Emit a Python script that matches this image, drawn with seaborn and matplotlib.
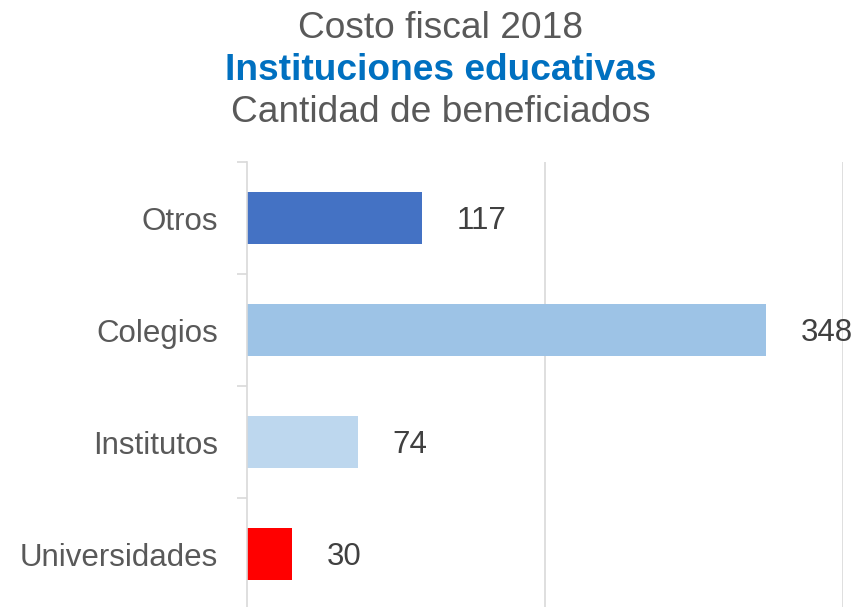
import matplotlib
matplotlib.use("Agg")
import matplotlib.pyplot as plt
import seaborn as sns
from matplotlib.ticker import FixedLocator

categorias = ["Otros", "Colegios", "Institutos", "Universidades"]
beneficiados = [117, 348, 74, 30]
colores = ["#4472C4", "#9DC3E6", "#BDD7EE", "#FF0000"]
x_max = 400
grid_x = [200, 400]

sns.set_theme(style="white")
plt.rcParams["font.family"] = ["Liberation Sans", "DejaVu Sans"]

fig = plt.figure(figsize=(8.56, 6.07), dpi=100)
ax = fig.add_axes([0.2891, -0.005, 0.985 - 0.2891, 0.738])

sns.barplot(x=beneficiados, y=categorias, hue=categorias, palette=colores,
            orient="h", width=0.46, linewidth=0, saturation=1,
            legend=False, ax=ax)

ax.set_xlim(0, x_max)
ax.set_ylim(3.5, -0.5)
ax.set_xticks(grid_x)
ax.set_xticklabels([])
ax.tick_params(axis="x", length=0)
ax.grid(axis="x", color="#D9D9D9", linewidth=1.2)
ax.set_axisbelow(True)

for side in ["top", "right", "bottom"]:
    ax.spines[side].set_visible(False)
ax.spines["left"].set_color("#D9D9D9")
ax.spines["left"].set_linewidth(1.2)

ax.yaxis.set_minor_locator(FixedLocator([-0.5, 0.5, 1.5, 2.5, 3.5]))
ax.tick_params(axis="y", which="major", length=0, pad=21,
               labelsize=22.5, labelcolor="#595959")
ax.tick_params(axis="y", which="minor", length=7, width=1.2,
               color="#D9D9D9", left=True)
ax.set_xlabel("")
ax.set_ylabel("")

for i, v in enumerate(beneficiados):
    ax.annotate(f"{v}", xy=(v, i), xytext=(25, -2), textcoords="offset points",
                ha="left", va="center", fontsize=22.5, color="#404040",
                annotation_clip=False)

fig.text(441 / 856, 1 - 38 / 607, "Costo fiscal 2018", ha="center",
         va="baseline", fontsize=26.7, color="#595959")
fig.text(441 / 856, 1 - 80 / 607, "Instituciones educativas", ha="center",
         va="baseline", fontsize=26.7, color="#0070C0", fontweight="bold")
fig.text(441 / 856, 1 - 122 / 607, "Cantidad de beneficiados", ha="center",
         va="baseline", fontsize=26.7, color="#595959")

fig.savefig("out.png", dpi=100)
